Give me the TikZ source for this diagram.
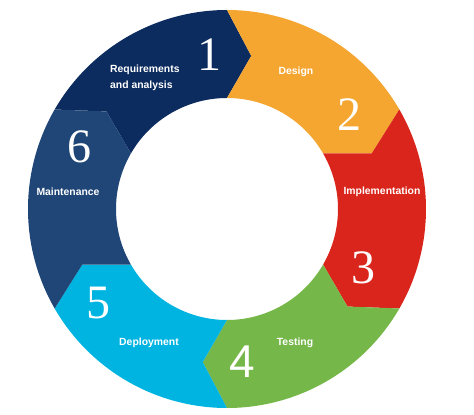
\documentclass[tikz,border=0pt]{standalone}
\usepackage{fontspec}
\setmainfont{Liberation Sans}
\newfontfamily\digitfont{Liberation Serif}
\usetikzlibrary{positioning}

\definecolor{navyA}{HTML}{0C2B5E}
\definecolor{orangeB}{HTML}{F4A631}
\definecolor{redC}{HTML}{D9251C}
\definecolor{greenD}{HTML}{76B74A}
\definecolor{cyanE}{HTML}{00B4E1}
\definecolor{blueF}{HTML}{1F4677}

\begin{document}
\begin{tikzpicture}[x=1pt,y=1pt]
  %----- styles
  \tikzset{
    phase/.style ={text=white,font=\fontsize{10.4}{16}\selectfont\bfseries,align=center,inner sep=0pt},
    num/.style   ={text=white,font=\digitfont\fontsize{48}{48}\selectfont,inner sep=0pt},
    numsans/.style={text=white,font=\fontsize{46}{46}\selectfont,inner sep=0pt}
  }

  %==================== RING GEOMETRY ====================
  \def\rOut{199}  % outer radius
  \def\rIn{111}   % inner radius
  \def\rMid{155}  % radius of the arrow tips
  \def\tip{9}     % how far a tip reaches past its boundary (deg)

  \useasboundingbox (-227,-206) rectangle (247,209);

  %----- segments (start angle / colour), clockwise
  \foreach \a/\col in {150/navyA,90/orangeB,30/redC,-30/greenD,-90/cyanE,-150/blueF}{
    \pgfmathsetmacro{\b}{\a-60}
    \fill[\col] (\a:\rOut) arc[start angle=\a,end angle=\b,radius=\rOut]
      -- (\b-\tip:\rMid) -- (\b:\rIn)
      arc[start angle=\b,end angle=\a,radius=\rIn]
      -- (\a-\tip:\rMid) -- cycle;
  }

  %----- labels
  \node[phase,anchor=west,align=left] (req) at (-117,131) {Requirements\\and analysis};
  \node[phase] (design)  at (69,137)   {Design};
  \node[phase] (impl)    at (155,17)   {Implementation};
  \node[phase] (testing) at (68,-134)  {Testing};
  \node[phase] (deploy)  at (-78,-134) {Deployment};
  \node[phase] (maint)   at (-159,17)  {Maintenance};

  %----- step numbers
  \node[num]     (n1) at (-17,154)  {1};
  \node[num]     (n2) at (122,94)   {2};
  \node[num]     (n3) at (136,-59)  {3};
  \node[numsans] (n4) at (15,-153)  {4};
  \node[num]     (n5) at (-128,-94) {5};
  \node[num]     (n6) at (-147,62)  {6};

\end{tikzpicture}
\end{document}
